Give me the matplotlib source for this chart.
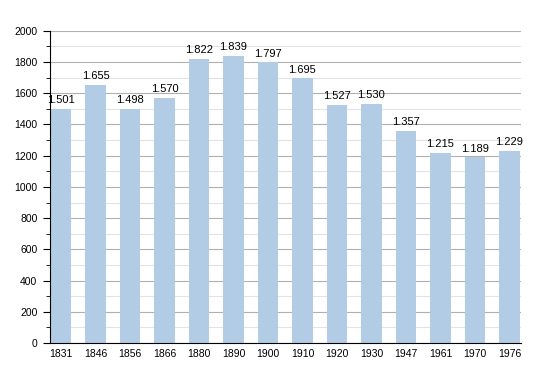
import matplotlib.pyplot as plt
from matplotlib.ticker import MultipleLocator

years = ["1831", "1846", "1856", "1866", "1880", "1890", "1900",
         "1910", "1920", "1930", "1947", "1961", "1970", "1976"]
population = [1501, 1655, 1498, 1570, 1822, 1839, 1797,
              1695, 1527, 1530, 1357, 1215, 1189, 1229]
labels = ["1.501", "1.655", "1.498", "1.570", "1.822", "1.839", "1.797",
          "1.695", "1.527", "1.530", "1.357", "1.215", "1.189", "1.229"]

plt.rcParams['font.family'] = ['Liberation Sans', 'DejaVu Sans']

fig = plt.figure(figsize=(5.5, 3.73), dpi=100)
ax = fig.add_axes([0.0909, 0.0804, 0.856, 0.837])

x = list(range(len(years)))
ax.bar(x, population, width=0.6, color="#b3cce6", zorder=3)

# valori sopra le barre
for xi, v, lab in zip(x, population, labels):
    ax.text(xi, v + 25, lab, ha="center", va="bottom", fontsize=8, zorder=4)

ax.set_xlim(-0.32, len(years) - 1 + 0.33)
ax.set_ylim(0, 2000)
ax.set_xticks(x)
ax.set_xticklabels(years, fontsize=7.5)
ax.tick_params(axis="x", length=0, pad=4)

ax.yaxis.set_major_locator(MultipleLocator(200))
ax.yaxis.set_minor_locator(MultipleLocator(100))
ax.tick_params(axis="y", which="major", length=5, labelsize=7.5, pad=4)
ax.tick_params(axis="y", which="minor", length=3)

ax.grid(axis="y", which="major", color="#b0b0b0", linewidth=0.8, zorder=0)
ax.grid(axis="y", which="minor", color="#e3e3e3", linewidth=0.8, zorder=0)

for s in ["top", "right"]:
    ax.spines[s].set_visible(False)
ax.spines["left"].set_zorder(5)
ax.spines["bottom"].set_zorder(5)

fig.savefig("out.png", dpi=100)
